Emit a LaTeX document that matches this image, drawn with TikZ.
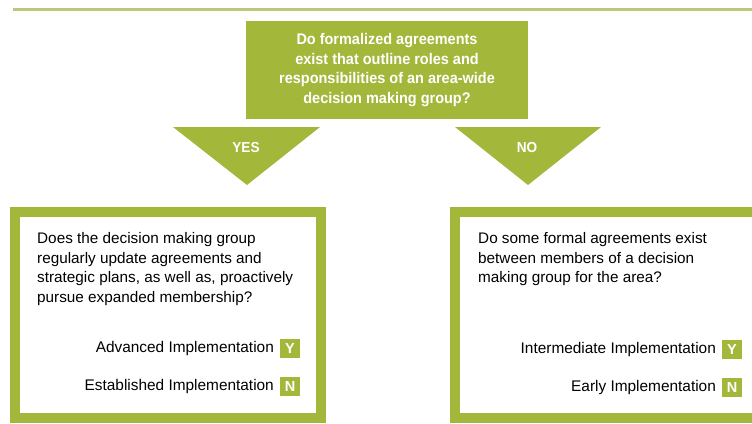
\documentclass[tikz,border=0pt]{standalone}
\usepackage{fontspec}
\setmainfont{Liberation Sans}
\newfontfamily\headfont[FakeStretch=0.94]{Liberation Sans}
\usetikzlibrary{positioning}
\definecolor{leafgreen}{HTML}{A3B83B}
\definecolor{palegreen}{HTML}{B9CB7A}
\tikzstyle{question} = [fill=leafgreen, text=white, align=center, minimum width=282pt, minimum height=98pt, font=\headfont\bfseries\fontsize{15.4}{19.5}\selectfont]
\tikzstyle{panel} = [draw=leafgreen, line width=10pt]
\tikzstyle{ask} = [anchor=north west, align=left, inner sep=0pt, font=\fontsize{15.3}{19.8}\selectfont]
\tikzstyle{tag} = [fill=leafgreen, text=white, minimum size=19.5pt, inner sep=0pt, font=\bfseries\fontsize{14.5}{14.5}\selectfont]
\tikzstyle{level} = [inner sep=0pt, font=\fontsize{15.4}{16}\selectfont]
\tikzstyle{pointer} = [fill=leafgreen]
\tikzstyle{verdict} = [text=white, font=\headfont\bfseries\fontsize{14.5}{14.5}\selectfont]

\begin{document}
\begin{tikzpicture}[x=1pt,y=1pt]
\clip (0,0) rectangle (752,-423);
\draw[palegreen, line width=3pt] (13,-9)--(752,-9);
\node[question] (q) at (387,-70) {Do formalized agreements\\exist that outline roles and\\responsibilities of an area-wide\\decision making group?};
\fill[pointer] (173,-127) -- (320,-127) -- (247,-185) -- cycle;
\fill[pointer] (455,-127) -- (601,-127) -- (528,-185) -- cycle;
\node[verdict] (yes) at (246,-148) {YES};
\node[verdict] (no) at (527,-148) {NO};
\draw[panel] (15,-212) rectangle (321,-418);
\draw[panel] (455,-212) rectangle (762,-418);
\node[ask] (qyes) at (37,-232) {Does the decision making group\\regularly update agreements and\\strategic plans, as well as, proactively\\pursue expanded membership?};
\node[ask] (qno) at (478,-232) {Do some formal agreements exist\\between members of a decision\\making group for the area?};
\node[tag] (y1) at (290,-348.5) {Y};
\node[tag] (n1) at (290,-386.5) {N};
\node[level, left=6pt of y1] (adv) {Advanced Implementation};
\node[level, left=6pt of n1] (est) {Established Implementation};
\node[tag] (y2) at (732,-349.5) {Y};
\node[tag] (n2) at (732,-387.5) {N};
\node[level, left=6pt of y2] (mid) {Intermediate Implementation};
\node[level, left=6pt of n2] (early) {Early Implementation};
\end{tikzpicture}
\end{document}
